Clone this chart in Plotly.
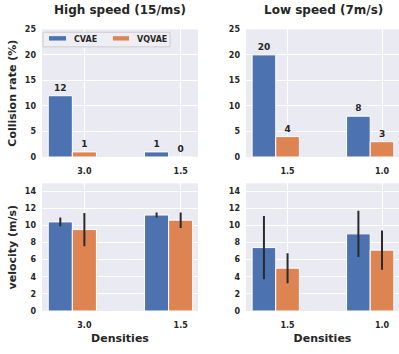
import plotly.graph_objects as go

# ---------------- data ----------------
densities_high = ["3.0", "1.5"]
densities_low = ["1.5", "1.0"]

coll_cvae_high = [12, 1]
coll_vqvae_high = [1, 0]
coll_cvae_low = [20, 8]
coll_vqvae_low = [4, 3]

vel_cvae_high = [10.4, 11.2]
vel_cvae_high_err = [0.5, 0.3]
vel_vqvae_high = [9.5, 10.6]
vel_vqvae_high_err = [1.95, 0.9]
vel_cvae_low = [7.4, 9.0]
vel_cvae_low_err = [3.7, 2.7]
vel_vqvae_low = [5.0, 7.1]
vel_vqvae_low_err = [1.75, 2.3]

series_names = ["CVAE", "VQVAE"]
colors = ["#4C72B0", "#DD8452"]

W, H = 399, 354
FONT = "DejaVu Sans"
BG = "#EAEAF2"
TXT = "#262626"
BW = 0.25

fig = go.Figure()

panels = [
    ("x", "y", densities_high, coll_cvae_high, coll_vqvae_high, None, None, True),
    ("x2", "y2", densities_low, coll_cvae_low, coll_vqvae_low, None, None, True),
    ("x3", "y3", densities_high, vel_cvae_high, vel_vqvae_high, vel_cvae_high_err, vel_vqvae_high_err, False),
    ("x4", "y4", densities_low, vel_cvae_low, vel_vqvae_low, vel_cvae_low_err, vel_vqvae_low_err, False),
]

for xa, ya, cats, cv, vq, cve, vqe, show_text in panels:
    pos = list(range(len(cats)))
    for vals, errs, color, off, name in [(cv, cve, colors[0], -1.5 * BW, series_names[0]),
                                         (vq, vqe, colors[1], -0.5 * BW, series_names[1])]:
        kw = {}
        if errs is not None:
            kw["error_y"] = dict(type="data", array=errs, visible=True, color="#2b2b2b",
                                 thickness=2, width=0)
        if show_text:
            kw["text"] = [str(v) for v in vals]
            kw["textposition"] = "outside"
            kw["textfont"] = dict(family=FONT, size=9, color=TXT, weight="bold")
            kw["cliponaxis"] = False
        fig.add_trace(go.Bar(x=pos, y=vals, width=BW, offset=off, name=name,
                             marker=dict(color=color, line=dict(color="white", width=1)),
                             showlegend=False, xaxis=xa, yaxis=ya, **kw))

def xd(a, b):
    return [a / W, b / W]

def yd(top, bottom):
    return [1 - bottom / H, 1 - top / H]

def px(x):
    return x / W

def py(y):
    return 1 - y / H

tickfont = dict(family=FONT, size=8, color=TXT, weight="bold")
common_x = dict(showgrid=True, gridcolor="white", gridwidth=1, zeroline=False,
                tickfont=tickfont, ticks="", showline=False, range=[-0.44, 1.18],
                tickmode="array", tickvals=[0, 1], ticklabelstandoff=8)
common_y = dict(showgrid=True, gridcolor="white", gridwidth=1, zeroline=False,
                tickfont=tickfont, ticks="", showline=False, ticklabelstandoff=5)

titlefont = dict(family=FONT, size=11, color=TXT, weight="bold")

# manual legend (box, colour patches, labels) in the first panel
legend_shapes = [
    dict(type="rect", xref="paper", yref="paper", x0=px(43), x1=px(170), y0=py(44), y1=py(29),
         fillcolor="#EEEEF4", line=dict(color="#CCCCCC", width=1), layer="above"),
    dict(type="rect", xref="paper", yref="paper", x0=px(49), x1=px(66), y0=py(37.5), y1=py(33),
         fillcolor=colors[0], line=dict(width=0), layer="above"),
    dict(type="rect", xref="paper", yref="paper", x0=px(113), x1=px(129), y0=py(37.5), y1=py(33),
         fillcolor=colors[1], line=dict(width=0), layer="above"),
]
legend_ann = [
    dict(text=series_names[0], x=px(72), y=py(36), xref="paper", yref="paper", showarrow=False,
         xanchor="left", yanchor="middle", font=dict(family=FONT, size=8, color=TXT, weight="bold")),
    dict(text=series_names[1], x=px(135), y=py(36), xref="paper", yref="paper", showarrow=False,
         xanchor="left", yanchor="middle", font=dict(family=FONT, size=8, color=TXT, weight="bold")),
]

fig.update_layout(
    width=W, height=H,
    margin=dict(l=0, r=0, t=0, b=0),
    paper_bgcolor="white", plot_bgcolor=BG,
    barmode="overlay",
    showlegend=False,
    font=dict(family=FONT, color=TXT),
    xaxis=dict(common_x, domain=xd(42, 198), anchor="y", ticktext=densities_high),
    xaxis2=dict(common_x, domain=xd(246, 399), anchor="y2", ticktext=densities_low),
    xaxis3=dict(common_x, domain=xd(42, 198), anchor="y3", ticktext=densities_high,
                title=dict(text="Densities", font=titlefont, standoff=5)),
    xaxis4=dict(common_x, domain=xd(246, 399), anchor="y4", ticktext=densities_low,
                title=dict(text="Densities", font=titlefont, standoff=5)),
    yaxis=dict(common_y, domain=yd(26, 157), anchor="x", range=[0, 25], dtick=5,
               title=dict(text="Collision rate (%)", font=titlefont, standoff=6)),
    yaxis2=dict(common_y, domain=yd(26, 157), anchor="x2", range=[0, 25], dtick=5),
    yaxis3=dict(common_y, domain=yd(184, 315), anchor="x3", range=[0, 14.9], dtick=2,
                title=dict(text="velocity (m/s)", font=titlefont, standoff=6)),
    yaxis4=dict(common_y, domain=yd(184, 315), anchor="x4", range=[0, 14.9], dtick=2),
    shapes=legend_shapes,
    annotations=[
        dict(text="High speed (15/ms)", x=px(120), y=py(6.5), xref="paper", yref="paper",
             showarrow=False, xanchor="center", yanchor="middle",
             font=dict(family=FONT, size=12, color=TXT, weight="bold")),
        dict(text="Low speed (7m/s)", x=px(323), y=py(6.5), xref="paper", yref="paper",
             showarrow=False, xanchor="center", yanchor="middle",
             font=dict(family=FONT, size=12, color=TXT, weight="bold")),
    ] + legend_ann,
)

fig.write_html("out.html", config={"displayModeBar": False},
               post_script="document.body.style.margin='0';document.body.style.overflow='hidden';")
